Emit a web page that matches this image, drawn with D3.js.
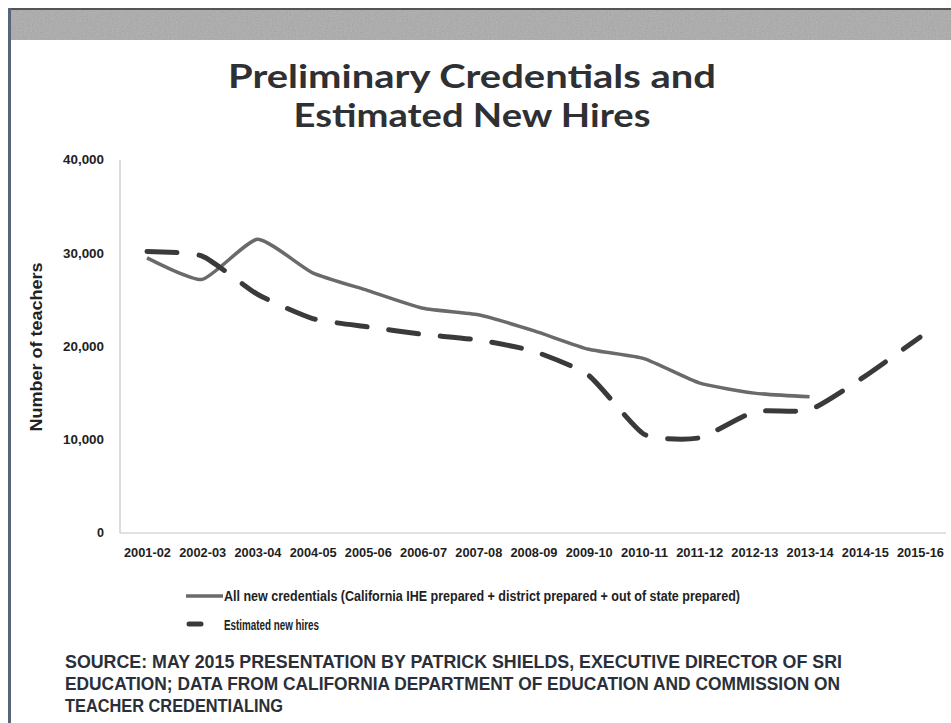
<!DOCTYPE html>
<html><head><meta charset="utf-8">
<script src="https://cdn.jsdelivr.net/npm/d3@7"></script>
<style>body{margin:0;background:#fff}svg{display:block}</style>
</head><body><svg id="c" width="951" height="723"></svg>
<script>
const categories = ["2001-02","2002-03","2003-04","2004-05","2005-06","2006-07","2007-08","2008-09","2009-10","2010-11","2011-12","2012-13","2013-14","2014-15","2015-16"];
const credentials = [29500,27200,31500,27900,26000,24100,23400,21700,19700,18700,16100,15000,14600];
const newHires = [30200,29700,25600,23000,22100,21300,20700,19500,16900,10600,10200,13000,13200,16800,21000];
const yTicks = [0,10000,20000,30000,40000];
const titleLines = ["Preliminary Credentials and","Estimated New Hires"];
const yTitle = "Number of teachers";
const legendLabels = ["All new credentials (California IHE prepared + district prepared + out of state prepared)","Estimated new hires"];
const sourceLines = ["SOURCE: MAY 2015 PRESENTATION BY PATRICK SHIELDS, EXECUTIVE DIRECTOR OF SRI","EDUCATION; DATA FROM CALIFORNIA DEPARTMENT OF EDUCATION AND COMMISSION ON","TEACHER CREDENTIALING"];

const svg = d3.select("#c");
const narrow = "'Liberation Sans Narrow','Liberation Sans',Arial,sans-serif";

// frame
const defs = svg.append("defs");
const f = defs.append("filter").attr("id","noise").attr("x",0).attr("y",0).attr("width","100%").attr("height","100%");
f.append("feTurbulence").attr("type","fractalNoise").attr("baseFrequency","0.8").attr("numOctaves",2).attr("seed",3).attr("result","n");
f.append("feColorMatrix").attr("in","n").attr("type","saturate").attr("values","0");
svg.append("rect").attr("x",8).attr("y",9).attr("width",943).attr("height",31).attr("fill","#aaaaaa");
svg.append("rect").attr("x",8).attr("y",9).attr("width",943).attr("height",31).attr("fill","#888").attr("filter","url(#noise)").attr("opacity",0.35);
svg.append("rect").attr("x",8).attr("y",8).attr("width",943).attr("height",2).attr("fill","#555");
svg.append("rect").attr("x",8).attr("y",8).attr("width",3).attr("height",715).attr("fill","#56657a");

// title
svg.append("g").selectAll("text").data(titleLines).join("text")
  .attr("x",472).attr("y",(d,i)=>88+i*39)
  .attr("text-anchor","middle")
  .attr("font-family","Lato,'Open Sans',sans-serif").attr("font-weight",700).attr("font-size",32)
  .attr("fill","#2f3033")
  .attr("textLength",(d,i)=>i===0?488:357).attr("lengthAdjust","spacingAndGlyphs")
  .text(d=>d);

// scales
const x = d3.scalePoint().domain(categories).range([147,920]);
const y = d3.scaleLinear().domain([0,40000]).range([533,160]);

// axes lines
svg.append("line").attr("x1",120).attr("x2",120).attr("y1",160).attr("y2",533).attr("stroke","#c4c4c4").attr("stroke-width",1.2);
svg.append("line").attr("x1",120).attr("x2",946).attr("y1",533).attr("y2",533).attr("stroke","#c4c4c4").attr("stroke-width",1.2);

// y axis labels via d3 axis
const yAxis = svg.append("g").attr("transform","translate(107,0)")
  .call(d3.axisLeft(y).tickValues(yTicks).tickSize(0).tickFormat(d3.format(",")));
yAxis.select(".domain").remove();
yAxis.selectAll("text").attr("font-family",narrow).attr("font-weight",700).attr("font-size",12).attr("fill","#222")
  .attr("textLength",d=>d===0?7:41).attr("lengthAdjust","spacingAndGlyphs");

// x axis labels
const xAxis = svg.append("g").attr("transform","translate(0,545)")
  .call(d3.axisBottom(x).tickSize(0));
xAxis.select(".domain").remove();
xAxis.selectAll("text").attr("font-family",narrow).attr("font-weight",700).attr("font-size",13).attr("fill","#1e1e1e")
  .attr("textLength",47).attr("lengthAdjust","spacingAndGlyphs");

// y title
svg.append("text").attr("transform","translate(42,347) rotate(-90)")
  .attr("text-anchor","middle").attr("font-family",narrow).attr("font-weight",700).attr("font-size",16)
  .attr("fill","#222").attr("textLength",169).attr("lengthAdjust","spacingAndGlyphs").text(yTitle);

// lines
const line = d3.line().x((d,i)=>x(categories[i])).y(d=>y(d)).curve(d3.curveCardinal.tension(0.45));
svg.append("path").datum(credentials).attr("d",line).attr("fill","none")
  .attr("stroke","#6a6a6a").attr("stroke-width",3.5).attr("stroke-linejoin","round");
svg.append("path").datum(newHires).attr("d",line).attr("fill","none")
  .attr("stroke","#3a3a3c").attr("stroke-width",5).attr("stroke-dasharray","30,22").attr("stroke-linecap","round");

// legend
svg.append("line").attr("x1",186).attr("x2",223).attr("y1",596).attr("y2",596).attr("stroke","#6a6a6a").attr("stroke-width",3.5);
svg.append("line").attr("x1",189).attr("x2",201).attr("y1",624).attr("y2",624).attr("stroke","#3a3a3c").attr("stroke-width",5).attr("stroke-linecap","round");
svg.append("g").selectAll("text").data(legendLabels).join("text")
  .attr("x",224).attr("y",(d,i)=>601+i*29)
  .attr("font-family",narrow).attr("font-weight",700).attr("font-size",14).attr("fill","#222")
  .attr("textLength",(d,i)=>i===0?516:95).attr("lengthAdjust","spacingAndGlyphs")
  .text(d=>d);

// source
svg.append("g").selectAll("text").data(sourceLines).join("text")
  .attr("x",65).attr("y",(d,i)=>668+i*22)
  .attr("font-family",narrow).attr("font-weight",700).attr("font-size",18).attr("fill","#2a2f3a")
  .attr("textLength",(d,i)=>[777,775,218][i]).attr("lengthAdjust","spacingAndGlyphs")
  .text(d=>d);
</script></body></html>
